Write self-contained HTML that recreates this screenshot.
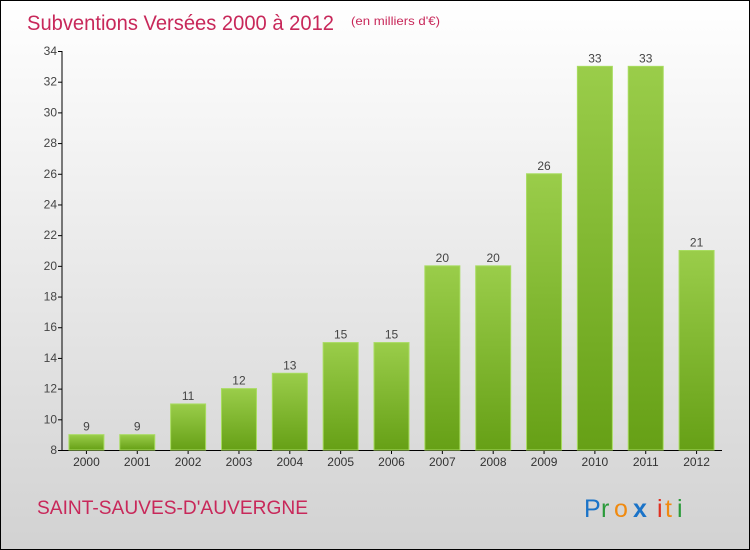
<!DOCTYPE html>
<html><head><meta charset="utf-8"><style>
body{margin:0}
#c{width:748px;height:548px;border:1px solid #000;background:linear-gradient(#ffffff,#d2d2d2);position:relative;font-family:"Liberation Sans",sans-serif;overflow:hidden}
</style></head><body>
<div id="c">
<svg width="748" height="548" font-family="'Liberation Sans',sans-serif">
<defs><linearGradient id="g" x1="0" y1="0" x2="0" y2="1"><stop offset="0" stop-color="#9acd4a"/><stop offset="1" stop-color="#66a016"/></linearGradient></defs>
<text x="26" y="29" font-size="21" fill="#c8285a" textLength="307" lengthAdjust="spacingAndGlyphs">Subventions Versées 2000 à 2012</text>
<text x="350" y="24" font-size="12" fill="#c8285a" textLength="89" lengthAdjust="spacingAndGlyphs">(en milliers d'€)</text>
<g id="axes"></g><g id="bars"></g>
<text x="36" y="513" font-size="19" fill="#c8285a" textLength="271" lengthAdjust="spacingAndGlyphs">SAINT-SAUVES-D'AUVERGNE</text>
<g font-size="25">
<text x="583" y="516" fill="#1a73c8">P</text><text x="600" y="516" fill="#2a9a3a">r</text><text x="613" y="516" fill="#f08a10">o</text><text x="632" y="516" fill="#1a73c8" font-weight="bold">x</text><text x="656" y="516" fill="#e03020">i</text><text x="664" y="516" fill="#f08a10">t</text><text x="676" y="516" fill="#2a9a3a">i</text></g>
</svg></div>
<script>
const categories=["2000","2001","2002","2003","2004","2005","2006","2007","2008","2009","2010","2011","2012"];
const values=[9,9,11,12,13,15,15,20,20,26,33,33,21];
const yTicks=[8,10,12,14,16,18,20,22,24,26,28,30,32,34];
const NS="http://www.w3.org/2000/svg";
const x0=60,x1=721,yMin=8,yMax=34,py0=449,py1=50;
const band=(x1-x0)/categories.length;
const y=v=>py0-(v-yMin)/(yMax-yMin)*(py0-py1);
const xc=i=>x0+band*(i+0.5);
function mk(t,a,p){const e=document.createElementNS(NS,t);for(const k in a)e.setAttribute(k,a[k]);p.appendChild(e);return e;}
const ax=document.getElementById('axes'),bs=document.getElementById('bars');
let l=mk('line',{x1:x0+1,y1:py1,x2:x0+1,y2:py0+1,stroke:'#000'},ax);


l=mk('line',{x1:x0,y1:py0+0.5,x2:x1,y2:py0+0.5,stroke:'#000'},ax);


yTicks.forEach(v=>{
 mk('line',{x1:x0-3,y1:y(v)+0.5,x2:x0+1,y2:y(v)+0.5,stroke:'#000'},ax);
 const t=mk('text',{x:x0-4,y:y(v)+4,'text-anchor':'end','font-size':12,fill:'#444'},ax);t.textContent=v;
 
 
});
categories.forEach((c,i)=>{
 const bw=35,h=py0-y(values[i]);
 const r=mk('rect',{x:xc(i)-bw/2,y:y(values[i]),width:bw,height:h,fill:'url(#g)',stroke:'#a8dc60','stroke-width':1},bs);
 
 
 mk('line',{x1:xc(i),y1:py0,x2:xc(i),y2:py0+4,stroke:'#000'},ax);
 const t=mk('text',{x:xc(i),y:py0+16,'text-anchor':'middle','font-size':12,fill:'#333'},ax);t.textContent=c;
 
 
 const v=mk('text',{x:xc(i),y:y(values[i])-4,'text-anchor':'middle','font-size':12,fill:'#444'},bs);v.textContent=values[i];
 
 
});
</script>
</body></html>
